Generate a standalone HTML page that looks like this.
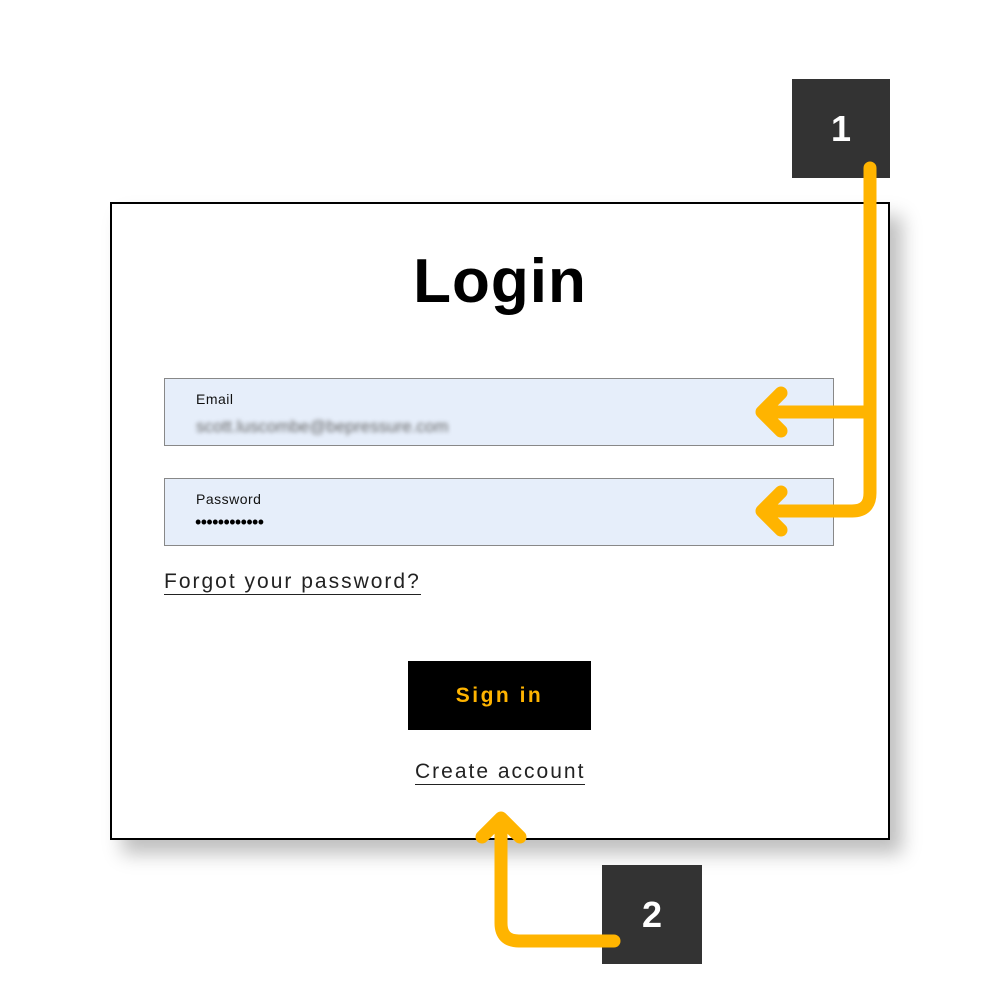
<!DOCTYPE html>
<html><head><style>
body{margin:0;width:1000px;height:1000px;background:#fff;position:relative;font-family:"Liberation Sans",sans-serif;overflow:hidden}
.card{position:absolute;left:110px;top:202px;width:776px;height:634px;border:2px solid #000;background:#fff;box-shadow:12px 14px 18px rgba(0,0,0,0.25)}
.inp{position:absolute;left:164px;width:668px;height:66px;background:#e6eefa;border:1.5px solid #888}
.lbl{position:absolute;left:31px;top:12px;font-size:14px;color:#111;letter-spacing:0.5px}
.badge{position:absolute;background:#333;color:#fff;font-weight:bold;font-size:36px;display:flex;align-items:center;justify-content:center}
</style></head><body>
<div class="card"></div>
<div style="position:absolute;left:0;width:1000px;top:246px;text-align:center;font-size:62px;font-weight:bold;letter-spacing:1px">Login</div>
<div class="inp" style="top:378px"><div class="lbl">Email</div>
<div style="position:absolute;left:31px;top:38px;font-size:17px;color:#666;filter:blur(2px)">scott.luscombe@bepressure.com</div></div>
<div class="inp" style="top:478px"><div class="lbl">Password</div>
<div style="position:absolute;left:30px;top:33px;font-size:18px;letter-spacing:-0.6px">••••••••••••</div></div>
<div style="position:absolute;left:164px;top:569px;font-size:21px;color:#222;letter-spacing:2px;border-bottom:1.5px solid #222;line-height:25px">Forgot your password?</div>
<div style="position:absolute;left:408px;top:661px;width:183px;height:69px;background:#000;color:#ffb400;font-weight:bold;font-size:21px;letter-spacing:2.5px;display:flex;align-items:center;justify-content:center">Sign in</div>
<div style="position:absolute;left:415px;top:759px;font-size:21px;color:#222;letter-spacing:2px;border-bottom:1.5px solid #222;line-height:25px">Create account</div>
<div class="badge" style="left:792px;top:79px;width:98px;height:99px">1</div>
<div class="badge" style="left:602px;top:865px;width:100px;height:99px">2</div>
<svg style="position:absolute;left:0;top:0" width="1000" height="1000">
<g fill="none" stroke="#ffb400" stroke-width="13" stroke-linecap="round" stroke-linejoin="round">
<path d="M870 168 V493 Q870 511 852 511 H764"/>
<path d="M870 412 H764"/>
<path d="M781 393 L762 412 L781 431"/>
<path d="M781 492 L762 511 L781 530"/>
<path d="M614 941 H519 Q501 941 501 923 V822"/>
<path d="M482 837 L501 818 L520 837"/>
</g></svg>
</body></html>
